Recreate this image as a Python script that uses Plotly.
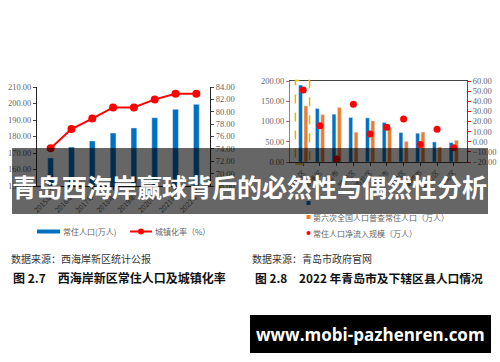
import plotly.graph_objects as go

# ---------------- data ----------------
years = ["2015年", "2016年", "2017年", "2018年", "2019年", "2020年", "2021年", "2022年"]
population = [167.0, 173.6, 177.3, 182.1, 185.2, 191.4, 196.5, 199.5]
urbanization = [74.1, 77.2, 78.9, 80.7, 80.7, 82.0, 82.9, 82.9]

districts = ["黄岛区", "即墨区", "平度市", "城阳区", "市北区", "胶州市", "李沧区", "莱西市", "崂山区", "市南区"]
census7 = [190.0, 132.0, 118.0, 110.0, 109.0, 97.5, 72.8, 71.0, 49.5, 48.0]
census6 = [138.6, 117.0, 134.6, 73.5, 101.5, 84.0, 51.0, 74.0, 37.0, 53.7]
net_inflow = [51.2, 15.8, -17.0, 37.0, 7.6, 14.3, 22.5, -2.6, 12.3, -6.0]

W, H = 500, 362
def px(x): return x / W
def py(y): return 1 - y / H

BLUE = "#0070C0"
ORANGE = "#ED7D31"
RED = "#FF0000"
GRAY = "#666666"
SERIF = "Liberation Serif, Times New Roman, serif"
CJK = "Noto Sans CJK SC, sans-serif"

fig = go.Figure()

# left chart
fig.add_trace(go.Bar(x=years, y=population, marker_color=BLUE, width=0.28,
                     xaxis="x", yaxis="y", showlegend=False))
fig.add_trace(go.Scatter(x=years, y=urbanization, mode="lines+markers",
                         line=dict(color=RED, width=2), marker=dict(color=RED, size=8),
                         xaxis="x", yaxis="y2", showlegend=False))

# right chart
fig.add_trace(go.Bar(x=districts, y=census7, marker_color=BLUE, width=0.23, offset=-0.275,
                     xaxis="x3", yaxis="y3", showlegend=False))
fig.add_trace(go.Bar(x=districts, y=census6, marker_color=ORANGE, width=0.23, offset=0.045,
                     xaxis="x3", yaxis="y3", showlegend=False))
fig.add_trace(go.Scatter(x=districts, y=net_inflow, mode="markers",
                         marker=dict(color=RED, size=7),
                         xaxis="x3", yaxis="y4", showlegend=False))

tickfont = dict(family=SERIF, size=8.5, color=GRAY)
xtickfont = dict(family=CJK, size=7, color=GRAY)

fig.update_layout(
    width=W, height=H, margin=dict(l=0, r=0, t=0, b=0, autoexpand=False),
    paper_bgcolor="white", plot_bgcolor="white", barmode="overlay",
    xaxis=dict(domain=[px(37), px(210)], anchor="y", type="category", automargin=False,
               showline=True, linecolor="#222", linewidth=1, ticks="outside", ticklen=3,
               tickangle=-45, tickfont=xtickfont, showgrid=False),
    yaxis=dict(domain=[py(186), py(87)], anchor="x", range=[150, 210], dtick=10, automargin=False,
               tickformat=".2f", showline=True, linecolor="#222", linewidth=1,
               ticks="outside", ticklen=3, tickfont=tickfont, showgrid=False, zeroline=False),
    yaxis2=dict(overlaying="y", side="right", anchor="x", range=[68, 84], dtick=2, automargin=False,
                tickformat=".2f", showline=True, linecolor="#222", linewidth=1,
                ticks="outside", ticklen=3, tickfont=tickfont, showgrid=False, zeroline=False),
    xaxis3=dict(domain=[px(290), px(467)], anchor="y3", type="category", automargin=False,
                showline=True, linecolor="#444", linewidth=1, mirror=True,
                ticks="outside", ticklen=3, tickangle=-45, tickfont=xtickfont, showgrid=False),
    yaxis3=dict(domain=[py(162), py(81)], anchor="x3", range=[0, 200], dtick=50, automargin=False,
                tickformat=".2f", showline=True, linecolor="#E06060", linewidth=1,
                ticks="outside", ticklen=3, tickcolor="#E06060", tickfont=tickfont,
                showgrid=False, zeroline=False),
    yaxis4=dict(overlaying="y3", side="right", anchor="x3", range=[-20, 60], dtick=10, automargin=False,
                tickformat=".2f", showline=True, linecolor=RED, linewidth=1,
                ticks="outside", ticklen=3, tickcolor=RED, tickfont=tickfont,
                showgrid=False, zeroline=False),
)

shapes = []
annos = []

def note(x, y, text, size, color, anchor="left", family=CJK):
    annos.append(dict(xref="paper", yref="paper", x=px(x), y=py(y), text=text,
                      showarrow=False, xanchor=anchor, yanchor="middle",
                      font=dict(family=family, size=size, color=color)))

# highlight box around first district
shapes.append(dict(type="rect", xref="x3", yref="paper", x0=-0.47, x1=0.38,
                   y0=py(164), y1=py(80.5), line=dict(color="#F0B400", width=1.5, dash="dash"),
                   fillcolor="rgba(0,0,0,0)"))

# left legend
shapes.append(dict(type="rect", xref="paper", yref="paper", x0=px(37), x1=px(60),
                   y0=py(233.5), y1=py(229.5), fillcolor=BLUE, line=dict(width=0)))
note(61, 231.5, "常住人口(万人)", 8, GRAY)
shapes.append(dict(type="line", xref="paper", yref="paper", x0=px(130), x1=px(152),
                   y0=py(231.5), y1=py(231.5), line=dict(color=RED, width=2)))
shapes.append(dict(type="circle", xref="paper", yref="paper", x0=px(138), x1=px(144),
                   y0=py(234.5), y1=py(228.5), fillcolor=RED, line=dict(width=0)))
note(153, 231.5, "城镇化率（%）", 8, GRAY)

# right legend
legend_rows = [(203, BLUE, "rect", "第七次全国人口普查常住人口（万人）"),
               (217, ORANGE, "rect", "第六次全国人口普查常住人口（万人）"),
               (233, RED, "circle", "常住人口净流入规模（万人）")]
for yy, col, kind, txt in legend_rows:
    shapes.append(dict(type=kind, xref="paper", yref="paper", x0=px(306.5), x1=px(310.5),
                       y0=py(yy + 2), y1=py(yy - 2), fillcolor=col, line=dict(width=0)))
    note(311, yy, txt, 8, GRAY)

# captions
note(9, 258, "数据来源：西海岸新区统计公报", 10, "#333")
note(11, 277, "<b>图 2.7　西海岸新区常住人口及城镇化率</b>", 12, "#111")
note(250, 258, "数据来源：青岛市政府官网", 10, "#333")
note(253, 277, "<b>图 2.8　2022 年青岛市及下辖区县人口情况</b>", 11.8, "#111")

# dark banner with title
shapes.append(dict(type="rect", xref="paper", yref="paper", x0=px(12), x1=px(488),
                   y0=py(214), y1=py(148), fillcolor="rgba(0,0,0,0.6)", line=dict(width=0),
                   layer="above"))
note(249, 186, "<b>青岛西海岸赢球背后的必然性与偶然性分析</b>", 25, "white", anchor="center")

# url box
shapes.append(dict(type="rect", xref="paper", yref="paper", x0=px(250), x1=px(491),
                   y0=py(353), y1=py(315), fillcolor="black", line=dict(width=0), layer="above"))
note(370.5, 334, "<b>www.mobi-pazhenren.com</b>", 17, "white", anchor="center",
     family="Open Sans, DejaVu Sans, sans-serif")

fig.update_layout(shapes=shapes, annotations=annos)
fig.write_html("out.html", config={"displayModeBar": False},
               post_script="document.body.style.margin='0';"
                           "document.documentElement.style.overflow='hidden';")
